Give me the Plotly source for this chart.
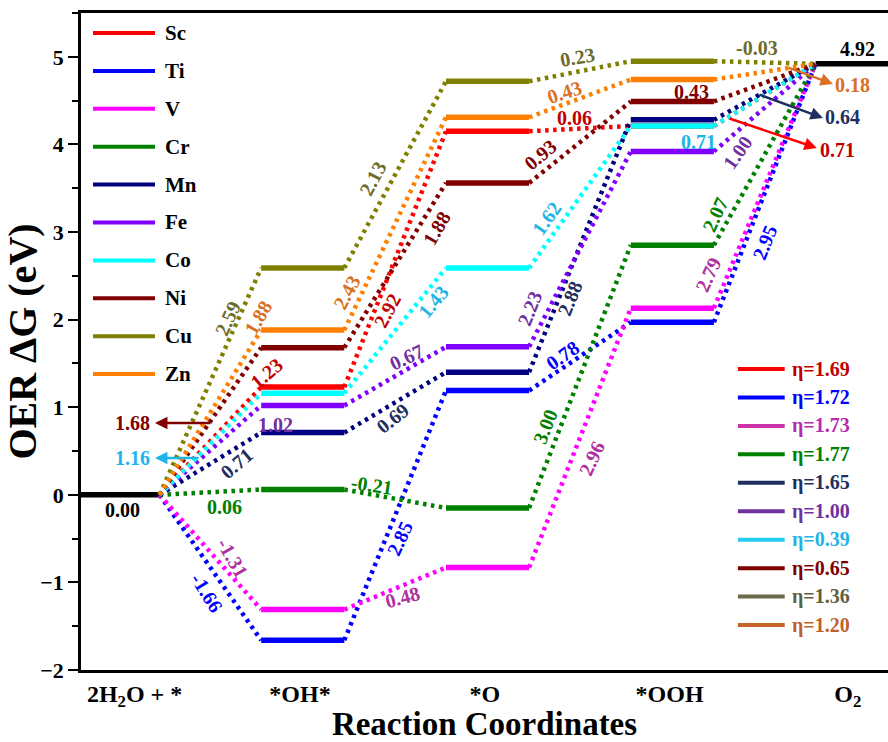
import plotly.graph_objects as go

# ---------------- data ----------------
metals = ["Sc", "Ti", "V", "Cr", "Mn", "Fe", "Co", "Ni", "Cu", "Zn"]
dG_OH = [1.23, -1.66, -1.31, 0.06, 0.71, 1.02, 1.16, 1.68, 2.59, 1.88]
dG_O = [2.92, 2.85, 0.48, -0.21, 0.69, 0.67, 1.43, 1.88, 2.13, 2.43]
dG_OOH = [0.06, 0.78, 2.96, 3.00, 2.88, 2.23, 1.62, 0.93, 0.23, 0.43]
dG_O2 = [0.71, 2.95, 2.79, 2.07, 0.64, 1.00, 0.71, 0.43, -0.03, 0.18]
eta = [1.69, 1.72, 1.73, 1.77, 1.65, 1.00, 0.39, 0.65, 1.36, 1.20]
steps = ["2H<sub>2</sub>O + *", "*OH*", "*O", "*OOH", "O<sub>2</sub>"]
G_start = 0.00
G_end = 4.92

# ---------------- styles ----------------
SERIF = "Liberation Serif, Times New Roman, serif"
line_colors = ["#FF0000", "#0000FF", "#FF00FF", "#008000", "#000080",
               "#8000FF", "#00FFFF", "#800000", "#808000", "#FF8000"]
label_colors = ["#C00000", "#0000FF", "#B030A0", "#008000", "#1F2F60",
                "#7030A0", "#1EB4E8", "#800000", "#6B6B2E", "#D97025"]
eta_line_colors = ["#FF0000", "#0000FF", "#CC33AA", "#008000", "#1F2F60",
                   "#7030A0", "#22CCF2", "#800000", "#6B6B4B", "#C8642A"]
eta_text_colors = ["#C00000", "#0000FF", "#B82AB0", "#008000", "#1F2F60",
                   "#7030A0", "#1EB4E8", "#800000", "#5F6040", "#C0602A"]
HW = 0.225          # half width of an energy level (x units)
TICK_POS = [0.09, 0.985, 1.985, 2.985, 3.95]

# label placement (x, y, angle[, arrow tail x, tail y, head x, head y]) per step
LABEL_POS = {
    "Sc": [(0.806, 1.39, -40), (1.456, 2.098, -62), (2.473, 4.30, 0),
           (3.896, 3.936, 0, 3.301, 4.301, 3.782, 3.959)],
    "Ti": [(0.482, -1.12, 58), (1.526, -0.493, -65), (2.408, 1.597, -35), (3.501, 2.886, -68)],
    "V": [(0.622, -0.72, 60), (1.542, -1.167, -15), (2.565, 0.42, -65), (3.193, 2.509, -65)],
    "Cr": [(0.579, -0.139, 0), (1.374, 0.112, 8), (2.311, 0.774, -68), (3.231, 3.194, -65)],
    "Mn": [(0.644, 0.363, -40), (1.488, 0.877, -38), (2.446, 2.247, -68),
           (3.923, 4.312, 0, 3.463, 4.575, 3.815, 4.301)],
    "Fe": [(0.85, 0.797, 0), (1.564, 1.574, -25), (2.229, 2.133, -68), (3.355, 3.912, -55)],
    "Co": [(0.076, 0.42, 0, 0.444, 0.42, 0.20, 0.42), (1.705, 2.2, -50),
           (2.321, 3.16, -55), (3.139, 4.027, 0)],
    "Ni": [(0.076, 0.82, 0, 0.509, 0.82, 0.20, 0.82), (1.726, 3.046, -60),
           (2.284, 3.878, -40), (3.106, 4.598, 0)],
    "Cu": [(0.595, 2.018, -65), (1.38, 3.616, -62), (2.489, 4.998, -10), (3.458, 5.10, 0)],
    "Zn": [(0.758, 2.018, -60), (1.239, 2.315, -62), (2.419, 4.598, -18),
           (3.977, 4.677, 0, 3.62, 4.883, 3.869, 4.689)],
}

fig = go.Figure()
annotations = []
shapes = []

# reference levels (black)
fig.add_trace(go.Scatter(x=[-0.3, HW], y=[G_start, G_start], mode="lines",
                         line=dict(color="black", width=5.5), showlegend=False, hoverinfo="skip"))
fig.add_trace(go.Scatter(x=[4 - HW, 4.4], y=[G_end, G_end], mode="lines",
                         line=dict(color="black", width=5.5), showlegend=False, hoverinfo="skip"))

level_traces = []
for i, m in enumerate(metals):
    L1 = G_start + dG_OH[i]
    L2 = L1 + dG_O[i]
    L3 = L2 + dG_OOH[i]
    levels = [G_start, L1, L2, L3, G_end]
    # dotted connectors
    cx, cy = [], []
    for s in range(4):
        cx += [s + HW, s + 1 - HW, None]
        cy += [levels[s], levels[s + 1], None]
    fig.add_trace(go.Scatter(x=cx, y=cy, mode="lines",
                             line=dict(color=line_colors[i], width=4.5, dash="3.5px,4.5px"),
                             showlegend=False, hoverinfo="skip"))
    # solid levels
    lx, ly = [], []
    for s in range(1, 4):
        lx += [s - HW, s + HW, None]
        ly += [levels[s], levels[s], None]
    level_traces.append(go.Scatter(x=lx, y=ly, mode="lines",
                                   line=dict(color=line_colors[i], width=5.5),
                                   name=m, showlegend=False, hoverinfo="skip"))
    # step labels
    dGs = [dG_OH[i], dG_O[i], dG_OOH[i], dG_O2[i]]
    for s in range(4):
        p = LABEL_POS[m][s]
        annotations.append(dict(x=p[0], y=p[1], xref="x", yref="y", text=f"<b>{dGs[s]:.2f}</b>",
                                textangle=p[2], showarrow=False,
                                font=dict(family=SERIF, size=20, color=label_colors[i])))
        if len(p) > 3:
            acol = line_colors[i] if m == "Sc" else label_colors[i]
            annotations.append(dict(x=p[5], y=p[6], ax=p[3], ay=p[4], xref="x", yref="y",
                                    axref="x", ayref="y", text="", showarrow=True,
                                    arrowhead=2, arrowsize=1, arrowwidth=2.5,
                                    arrowcolor=acol, standoff=0))

for t in level_traces:
    fig.add_trace(t)

annotations.append(dict(x=0.027, y=-0.174, xref="x", yref="y", text=f"<b>{G_start:.2f}</b>",
                        showarrow=False, font=dict(family=SERIF, size=20, color="black")))
annotations.append(dict(x=4.0, y=5.09, xref="x", yref="y", text=f"<b>{G_end:.2f}</b>",
                        showarrow=False, font=dict(family=SERIF, size=20, color="black")))

# ---------------- manual legends ----------------
PH = 657.0  # plot height px
for i, m in enumerate(metals):
    yp = (670 - (33 + 37.9 * i)) / PH
    shapes.append(dict(type="line", xref="paper", yref="paper", x0=0.0149, x1=0.0917,
                       y0=yp, y1=yp, line=dict(color=line_colors[i], width=4)))
    annotations.append(dict(x=0.1016, y=yp, xref="paper", yref="paper", xanchor="left",
                            yanchor="middle", text=f"<b>{m}</b>", showarrow=False,
                            font=dict(family=SERIF, size=21, color="black")))

for i, e in enumerate(eta):
    yp = (670 - (369 + 28.45 * i)) / PH
    shapes.append(dict(type="line", xref="paper", yref="paper", x0=0.814, x1=0.872,
                       y0=yp, y1=yp, line=dict(color=eta_line_colors[i], width=4)))
    annotations.append(dict(x=0.879, y=yp, xref="paper", yref="paper", xanchor="left",
                            yanchor="middle", text=f"<b>η={e:.2f}</b>", showarrow=False,
                            font=dict(family=SERIF, size=20, color=eta_text_colors[i])))

fig.update_layout(
    width=888, height=742,
    margin=dict(l=81, r=0, t=13, b=72),
    paper_bgcolor="white", plot_bgcolor="white",
    showlegend=False,
    annotations=annotations,
    shapes=shapes,
    xaxis=dict(range=[-0.2, 4.167], showline=True, linecolor="black", linewidth=2.5,
               mirror=True, ticks="", showgrid=False, zeroline=False,
               tickvals=TICK_POS, ticktext=steps,
               tickfont=dict(family=SERIF, size=24, color="black", weight="bold"),
               title=dict(text="Reaction Coordinates", standoff=4,
                          font=dict(family=SERIF, size=33, color="black", weight="bold"))),
    yaxis=dict(range=[-2, 5.5], showline=True, linecolor="black", linewidth=2.5,
               ticks="outside", ticklen=10, tickwidth=2, tickcolor="black",
               dtick=1, tick0=0, showgrid=False, zeroline=False,
               minor=dict(dtick=0.5, ticks="outside", ticklen=6, tickwidth=2, tickcolor="black"),
               tickfont=dict(family=SERIF, size=22, color="black", weight="bold"),
               title=dict(text="OER ΔG (eV)", standoff=6,
                          font=dict(family=SERIF, size=40, color="black", weight="bold"))),
)

fig.write_html("out.html")
